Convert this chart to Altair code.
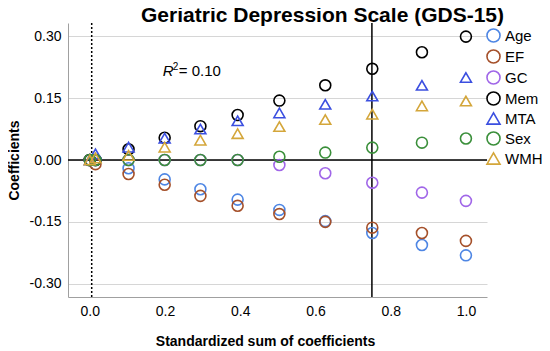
import altair as alt
import pandas as pd

# ---- data ----
x_vals = [0.0, 0.015, 0.103, 0.199, 0.294, 0.393, 0.504, 0.626, 0.751, 0.883, 1.0]
age = [0, 0, -0.020, -0.047, -0.071, -0.096, -0.121, -0.148, -0.177, -0.206, -0.231]
ef  = [0, -0.010, -0.034, -0.060, -0.087, -0.111, -0.131, -0.150, -0.164, -0.177, -0.196]
gc  = [0, 0, 0, 0, 0, 0, -0.012, -0.032, -0.055, -0.079, -0.099]
mem = [0, 0, 0.026, 0.054, 0.082, 0.109, 0.144, 0.181, 0.221, 0.261, 0.299]
mta = [0, 0.015, 0.031, 0.053, 0.075, 0.095, 0.114, 0.135, 0.155, 0.181, 0.200]
sex = [0, 0, 0, 0, 0, 0, 0.008, 0.018, 0.030, 0.042, 0.052]
wmh = [0, 0.005, 0.011, 0.031, 0.048, 0.064, 0.081, 0.098, 0.111, 0.131, 0.143]

series_names = ["Age", "EF", "GC", "Mem", "MTA", "Sex", "WMH"]
series_vals = [age, ef, gc, mem, mta, sex, wmh]
series_colors = ["#4e86e4", "#a5502a", "#a066e8", "#000000", "#3b4fe0", "#3a8f3a", "#d4a63a"]
series_shapes = ["circle", "circle", "circle", "circle", "triangle-up", "circle", "triangle-up"]

x_ticks = [0.0, 0.2, 0.4, 0.6, 0.8, 1.0]
y_ticks = [-0.30, -0.15, 0.0, 0.15, 0.30]
vlines_dotted = [0.005]
vlines_solid = [0.75]
hline = [0.0]
r2_label = "0.10"

rows = []
for name, vals in zip(series_names, series_vals):
    for xv, yv in zip(x_vals, vals):
        rows.append({"x": xv, "y": yv, "var": name})
df = pd.DataFrame(rows)

FONT = "Liberation Sans"
xscale = alt.Scale(domain=[-0.058, 1.056], nice=False, zero=False)
yscale = alt.Scale(domain=[-0.332, 0.332], nice=False, zero=False)

legend = alt.Legend(title=None, orient="none", legendX=418, legendY=5,
                    labelFontSize=15, labelColor="#000", symbolSize=170,
                    symbolStrokeWidth=1.6, rowPadding=0, labelOffset=4, padding=0)

points = alt.Chart(df).mark_point(filled=False, strokeWidth=1.6, size=120, opacity=1).encode(
    x=alt.X("x:Q", scale=xscale,
            axis=alt.Axis(values=x_ticks, format=".1f", grid=False, ticks=False,
                          domainColor="#a0a0a0", labelFontSize=14, labelColor="#000",
                          labelPadding=7, title="Standardized sum of coefficients",
                          titleFontSize=14, titleFontWeight="bold", titleColor="#000",
                          titlePadding=16, titleX=197)),
    y=alt.Y("y:Q", scale=yscale,
            axis=alt.Axis(values=y_ticks, grid=True, gridColor="#d6d6d6", ticks=False,
                          labelExpr="datum.value < 0 ? '-' + format(-datum.value, '.2f') : format(datum.value, '.2f')",
                          domainColor="#a0a0a0", labelFontSize=14, labelColor="#000",
                          labelPadding=7, title="Coefficients",
                          titleFontSize=14, titleFontWeight="bold", titleColor="#000",
                          titlePadding=8)),
    color=alt.Color("var:N", scale=alt.Scale(domain=series_names, range=series_colors),
                    legend=legend),
    shape=alt.Shape("var:N", scale=alt.Scale(domain=series_names, range=series_shapes),
                    legend=legend),
)

dotted = alt.Chart(pd.DataFrame({"x": vlines_dotted})).mark_rule(
    color="#000", strokeDash=[2, 2], strokeWidth=1.5).encode(x=alt.X("x:Q", scale=xscale))
solid = alt.Chart(pd.DataFrame({"x": vlines_solid})).mark_rule(
    color="#000", strokeWidth=1.5).encode(x=alt.X("x:Q", scale=xscale))
zero = alt.Chart(pd.DataFrame({"y": hline})).mark_rule(
    color="#000", strokeWidth=1.5).encode(y=alt.Y("y:Q", scale=yscale))

ann = pd.DataFrame({"x": [0.194], "y": [0.2025]})
r_text = alt.Chart(ann).mark_text(align="left", baseline="alphabetic", fontSize=15,
                                  fontStyle="italic", font=FONT, color="#000").encode(
    x=alt.X("x:Q", scale=xscale), y=alt.Y("y:Q", scale=yscale), text=alt.value("R"))
r2_text = alt.Chart(ann).mark_text(align="left", baseline="alphabetic", fontSize=10, dx=10, dy=-6,
                                   font=FONT, color="#000").encode(
    x=alt.X("x:Q", scale=xscale), y=alt.Y("y:Q", scale=yscale), text=alt.value("2"))
val_text = alt.Chart(ann).mark_text(align="left", baseline="alphabetic", fontSize=15, dx=16,
                                    font=FONT, color="#000").encode(
    x=alt.X("x:Q", scale=xscale), y=alt.Y("y:Q", scale=yscale), text=alt.value("= " + r2_label))

chart = alt.layer(dotted, solid, zero, points, r_text, r2_text, val_text).properties(
    width=419, height=274,
    autosize=alt.AutoSizeParams(type="none"),
    padding={"left": 60, "top": 15, "right": 55, "bottom": 54},
    title=alt.TitleParams("Geriatric Depression Scale (GDS-15)", fontSize=21, fontWeight="bold",
                          font=FONT, color="#000", anchor="middle", dx=45, offset=-4),
).configure(font=FONT).configure_view(stroke=None)

chart.save("out.html", embed_options={"renderer": "svg", "actions": False})
